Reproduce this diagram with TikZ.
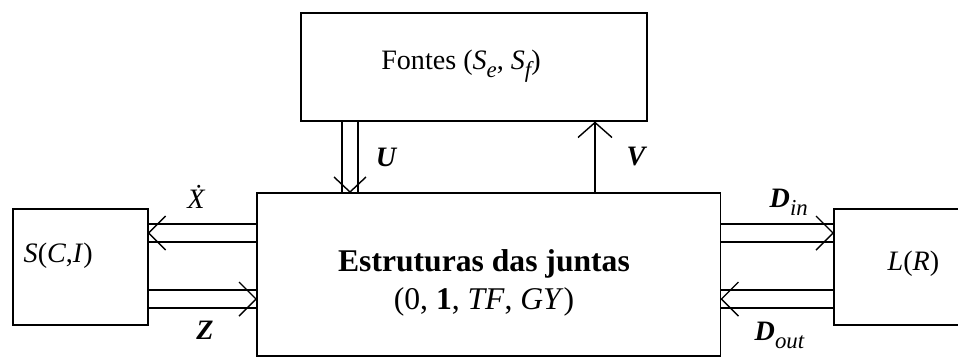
\documentclass[tikz,border=0pt]{standalone}
\usepackage{fontspec}
\setmainfont{Liberation Serif}
\usetikzlibrary{arrows.meta, positioning, calc}
\newcommand\lowsub[1]{\raisebox{-0.3em}{\fontsize{13}{15}\selectfont\mdseries\itshape #1}}
\tikzset{
  blk/.style={rectangle, draw, line width=0.9pt, inner sep=0pt, anchor=north west},
  txt/.style={font=\fontsize{16}{19}\selectfont, inner sep=0pt},
  big/.style={font=\fontsize{18}{21.5}\selectfont, align=center, inner sep=0pt},
  lbl/.style={font=\fontsize{16}{19}\selectfont\bfseries\itshape, inner sep=0pt},
  arrow/.style={-{Straight Barb[length=0.3cm, width=0.68cm]}},
  barb/.style={line join=miter}
}

\begin{document}
\begin{tikzpicture}[x=0.02cm, y=-0.02cm, line width=0.8pt]
  \useasboundingbox (0,0) rectangle (958,356);
  % blocks
  \node[blk, minimum width=6.92cm, minimum height=2.16cm] (fon) at (300,12) {};
  \node[blk, minimum width=9.28cm, minimum height=3.26cm] (est) at (256,192) {};
  \node[blk, minimum width=2.7cm, minimum height=2.32cm] (sci) at (12,208) {};
  \node[blk, minimum width=4cm, minimum height=2.32cm] (lr) at (833,208) {};
  % block texts
  \node[txt] (fontxt) at (461,66) {Fontes (\textit{S}\lowsub{e}, \textit{S}\lowsub{f})};
  \node[big] (esttxt) at (484,283) {\textbf{Estruturas das juntas}\\(0, \textbf{1}, \textit{TF}, \textit{GY})};
  \node[txt, anchor=base west] (scitxt) at (23,262) {\textit{S}(\textit{C},\textit{I})};
  \node[txt, anchor=base west] (lrtxt) at (887,270) {\textit{L}(\textit{R})};
  % U (double, down)
  \coordinate (ut) at (est.north -| 350,0);
  \draw (fon.south -| 342,0) -- (est.north -| 342,0);
  \draw (fon.south -| 358,0) -- (est.north -| 358,0);
  \draw[barb] ($(ut)+(-16,-15)$) -- (ut) -- ($(ut)+(16,-15)$);
  % V (single, up)
  \draw[arrow] (est.north -| 595,0) -- (fon.south -| 595,0);
  % X dot (double, left)
  \coordinate (xt) at (sci.east |- 0,233);
  \draw (est.west |- 0,224) -- (sci.east |- 0,224);
  \draw (est.west |- 0,242) -- (sci.east |- 0,242);
  \draw[barb] ($(xt)+(17,-17)$) -- (xt) -- ($(xt)+(17,17)$);
  % Z (double, right)
  \coordinate (zt) at (est.west |- 0,299);
  \draw (sci.east |- 0,290) -- (est.west |- 0,290);
  \draw (sci.east |- 0,308) -- (est.west |- 0,308);
  \draw[barb] ($(zt)+(-17,-17)$) -- (zt) -- ($(zt)+(-17,17)$);
  % D in (double, right)
  \coordinate (dit) at (lr.west |- 0,233);
  \draw (est.east |- 0,224) -- (lr.west |- 0,224);
  \draw (est.east |- 0,242) -- (lr.west |- 0,242);
  \draw[barb] ($(dit)+(-17,-17)$) -- (dit) -- ($(dit)+(-17,17)$);
  % D out (double, left)
  \coordinate (dot) at (est.east |- 0,299);
  \draw (lr.west |- 0,290) -- (est.east |- 0,290);
  \draw (lr.west |- 0,308) -- (est.east |- 0,308);
  \draw[barb] ($(dot)+(17,-17)$) -- (dot) -- ($(dot)+(17,17)$);
  % labels
  \node[lbl] (ulbl) at (386,157) {U};
  \node[lbl] (vlbl) at (636,157) {V};
  \node[txt] (xlbl) at (196,197) {\itshape\.{X}};
  \node[lbl] (zlbl) at (205,330) {Z};
  \node[lbl, anchor=base west] (dilbl) at (769,207) {D\lowsub{in}};
  \node[lbl, anchor=base west] (dolbl) at (754,340) {D\lowsub{out}};
\end{tikzpicture}
\end{document}
